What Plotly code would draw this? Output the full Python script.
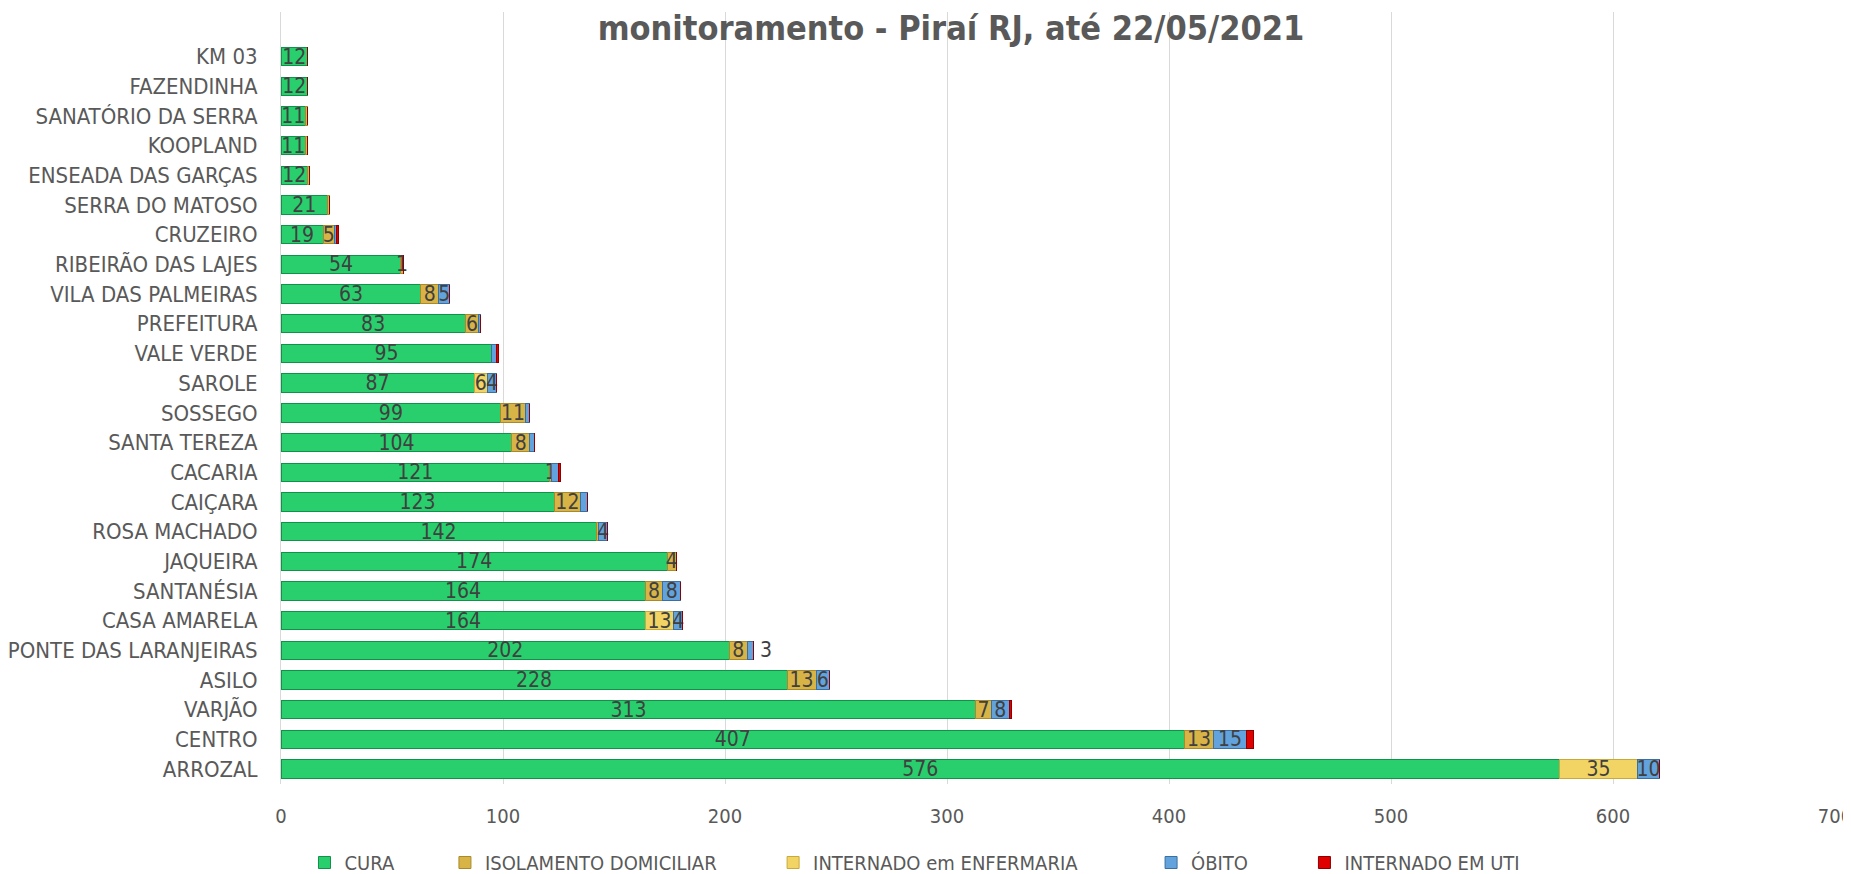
import plotly.graph_objects as go

# ---- data (bottom -> top) ----
categories = ["ARROZAL", "CENTRO", "VARJÃO", "ASILO", "PONTE DAS LARANJEIRAS",
              "CASA AMARELA", "SANTANÉSIA", "JAQUEIRA", "ROSA MACHADO", "CAIÇARA",
              "CACARIA", "SANTA TEREZA", "SOSSEGO", "SAROLE", "VALE VERDE",
              "PREFEITURA", "VILA DAS PALMEIRAS", "RIBEIRÃO DAS LAJES", "CRUZEIRO",
              "SERRA DO MATOSO", "ENSEADA DAS GARÇAS", "KOOPLAND",
              "SANATÓRIO DA SERRA", "FAZENDINHA", "KM 03"]

cura = [576, 407, 313, 228, 202, 164, 164, 174, 142, 123, 121, 104, 99, 87, 95,
        83, 63, 54, 19, 21, 12, 11, 11, 12, 12]
isolamento = [0, 13, 7, 13, 8, 0, 8, 4, 1, 12, 1, 8, 11, 0, 0,
              6, 8, 1, 5, 1, 1, 1, 1, 0, 0]
enfermaria = [35, 0, 0, 0, 0, 13, 0, 0, 0, 0, 0, 0, 0, 6, 0,
              0, 0, 0, 0, 0, 0, 0, 0, 0, 0]
obito = [10, 15, 8, 6, 3, 4, 8, 0, 4, 3, 3, 2, 2, 4, 2,
         1, 5, 0, 1, 0, 0, 0, 0, 0, 0]
uti = [0, 3, 1, 0, 0, 0, 0, 0, 0, 0, 1, 0, 0, 0, 1,
       0, 0, 0, 1, 0, 0, 0, 0, 0, 0]

x_ticks = [0, 100, 200, 300, 400, 500, 600, 700]
title_text = "monitoramento - Piraí RJ, até 22/05/2021"

# labels that Excel showed for tiny segments / label shown outside the bar
small_labels_shown = {("ISOLAMENTO DOMICILIAR", "RIBEIRÃO DAS LAJES"),
                      ("ISOLAMENTO DOMICILIAR", "CACARIA")}
outside_label = ("ÓBITO", "PONTE DAS LARANJEIRAS")

FONT = "Liberation Sans Narrow, DejaVu Sans Condensed, Arial Narrow, sans-serif"
LABEL_COLOR = "#404040"
AXIS_COLOR = "#595959"

series = [
    ("CURA", cura, "#29CF6D", "#12914A"),
    ("ISOLAMENTO DOMICILIAR", isolamento, "#D8B447", "#A88A2C"),
    ("INTERNADO em ENFERMARIA", enfermaria, "#F1D463", "#C9A93A"),
    ("ÓBITO", obito, "#62A3DE", "#3C6F9E"),
    ("INTERNADO EM UTI", uti, "#E00000", "#8E0000"),
]
legend_pad = [8, 9, 12, 9, 0]

fig = go.Figure()
for (name, vals, color, line), pad in zip(series, legend_pad):
    texts = []
    for cat, v in zip(categories, vals):
        if v == 0 or (name, cat) == outside_label:
            texts.append("")
        elif name == "CURA" or v >= 4 or (name, cat) in small_labels_shown:
            texts.append(str(v))
        else:
            texts.append("")
    fig.add_trace(go.Bar(
        name=name + "\u00a0" * pad,
        y=categories, x=vals, orientation="h",
        marker=dict(color=color, line=dict(color=line, width=1)),
        text=texts, textposition="inside", textangle=0,
        insidetextanchor="middle", constraintext="none",
        textfont=dict(family=FONT, size=21, color=LABEL_COLOR),
        width=0.62,
    ))

# label of the ÓBITO segment of PONTE DAS LARANJEIRAS, drawn past the bar end
idx = categories.index(outside_label[1])
total = cura[idx] + isolamento[idx] + enfermaria[idx] + obito[idx] + uti[idx]
fig.add_annotation(x=total, y=categories[idx], text=str(obito[idx]),
                   showarrow=False, xanchor="left", xshift=4,
                   font=dict(family=FONT, size=21, color=LABEL_COLOR))

fig.update_layout(
    width=1851, height=874,
    barmode="stack",
    paper_bgcolor="white", plot_bgcolor="white",
    margin=dict(l=273, r=24, t=4, b=98, autoexpand=False),
    title=dict(text=title_text, x=943 / 1851, xanchor="center",
               y=1 - 20 / 874, yanchor="middle", yref="container",
               font=dict(family=FONT, size=34, color=AXIS_COLOR, weight="bold")),
    xaxis=dict(range=[0, 700], tickvals=x_ticks, showgrid=True,
               gridcolor="#D9D9D9", gridwidth=1, zeroline=False,
               showline=False, ticks="", ticklabelstandoff=18, automargin=False,
               tickfont=dict(family=FONT, size=20, color=AXIS_COLOR)),
    yaxis=dict(type="category", categoryorder="array", categoryarray=categories,
               range=[-0.5, len(categories) + 0.5], showgrid=False,
               zeroline=False, showline=True, linecolor="#D9D9D9", linewidth=1,
               ticks="", ticklabelstandoff=18, automargin=False,
               tickfont=dict(family=FONT, size=22, color=AXIS_COLOR)),
    legend=dict(orientation="h", xref="container", x=0.49, xanchor="center",
                yref="container", y=-0.003, yanchor="bottom",
                font=dict(family=FONT, size=20, color=AXIS_COLOR),
                traceorder="normal", itemwidth=30),
    showlegend=True,
)

fig.write_html("out.html")
